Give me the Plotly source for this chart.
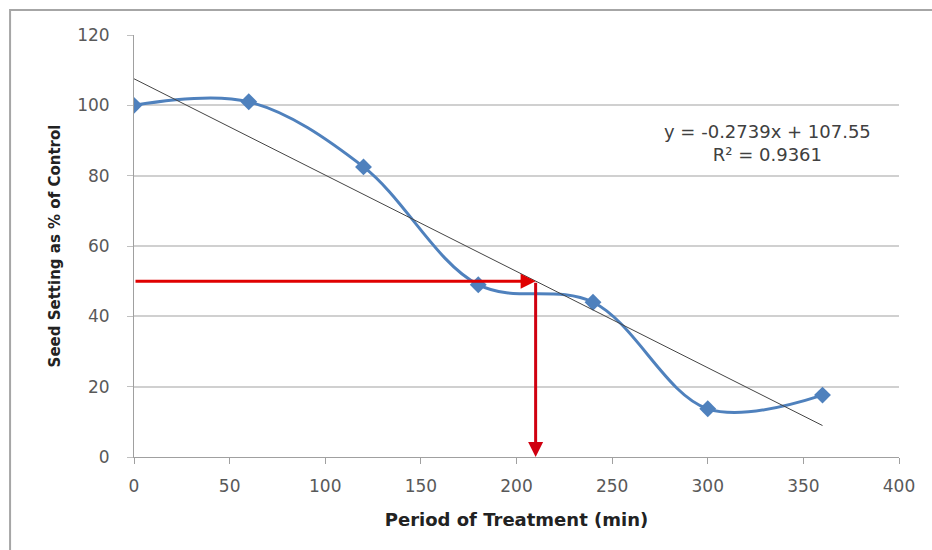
import plotly.graph_objects as go

period = [0, 60, 120, 180, 240, 300, 360]
seed_setting = [100, 101, 82.5, 49, 44, 13.7, 17.6]
slope = -0.2739
intercept = 107.55
trend_x = [0, 360]
trend_y = [intercept + slope * v for v in trend_x]
target_y = 50
target_x = 210
x_ticks = [0, 50, 100, 150, 200, 250, 300, 350, 400]
y_ticks = [0, 20, 40, 60, 80, 100, 120]

font_family = "DejaVu Sans, sans-serif"
tick_color = "#595959"

fig = go.Figure()
fig.add_trace(go.Scatter(
    x=period, y=seed_setting, mode="lines+markers",
    line=dict(color="#4F81BD", width=3, shape="spline", smoothing=1.0),
    marker=dict(symbol="diamond", size=13, color="#4F81BD"),
    showlegend=False))
fig.add_trace(go.Scatter(
    x=trend_x, y=trend_y, mode="lines",
    line=dict(color="#444444", width=1), showlegend=False))

# red arrows
fig.add_annotation(x=target_x, y=target_y, ax=0, ay=target_y, xref="x", yref="y",
                   axref="x", ayref="y", showarrow=True, arrowhead=2, arrowsize=1,
                   arrowwidth=3, arrowcolor="#E00000", text="")
fig.add_annotation(x=target_x, y=0, ax=target_x, ay=target_y, xref="x", yref="y",
                   axref="x", ayref="y", showarrow=True, arrowhead=2, arrowsize=1,
                   arrowwidth=3, arrowcolor="#D00010", text="")

fig.add_annotation(x=331, y=89.3, xref="x", yref="y", showarrow=False,
                   text="y = -0.2739x + 107.55<br>R² = 0.9361",
                   font=dict(family=font_family, size=18, color="#404040"),
                   align="center")

# outer border
fig.add_shape(type="rect", xref="paper", yref="paper",
              x0=-0.162, y0=-0.25, x1=1.1, y1=1.059,
              line=dict(color="#A6A6A6", width=2), fillcolor="rgba(0,0,0,0)")

fig.update_xaxes(range=[0, 400], tickvals=x_ticks, showgrid=False,
                 showline=True, linecolor="#A0A0A0", linewidth=1,
                 ticks="outside", ticklen=6, tickcolor="#A0A0A0",
                 ticklabelstandoff=8,
                 tickfont=dict(family=font_family, size=17, color=tick_color),
                 title=dict(text="<b>Period of Treatment (min)</b>", standoff=17,
                            font=dict(family=font_family, size=18, color="#222222")),
                 zeroline=False)
fig.update_yaxes(range=[0, 120], tickvals=y_ticks, showgrid=True,
                 gridcolor="#D0D0D0", gridwidth=1.5,
                 showline=True, linecolor="#A0A0A0", linewidth=1,
                 ticks="outside", ticklen=6, tickcolor="#C0C0C0",
                 ticklabelstandoff=14,
                 tickfont=dict(family=font_family, size=17, color=tick_color),
                 title=dict(text="<b>Seed Setting as % of Control</b>", standoff=12,
                            font=dict(family=font_family, size=15, color="#222222")),
                 zeroline=False)

fig.update_layout(width=932, height=550, margin=dict(l=134, r=33, t=35, b=93),
                  plot_bgcolor="white", paper_bgcolor="white")
fig.write_html("out.html")
